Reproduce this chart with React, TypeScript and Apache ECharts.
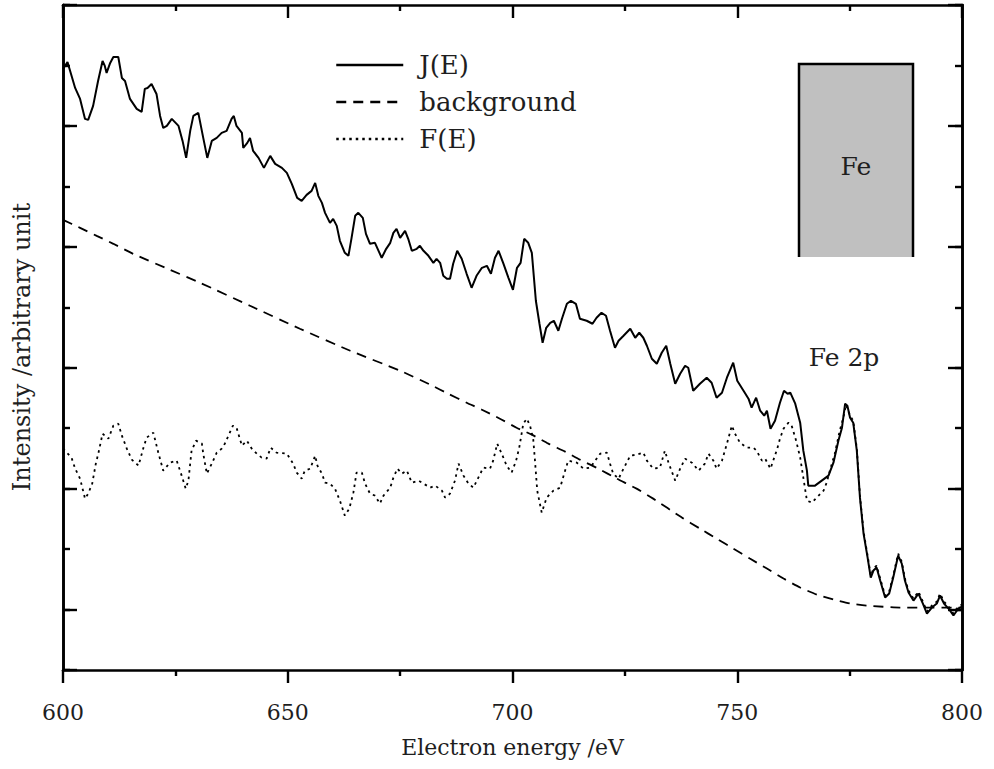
import React, { useEffect, useRef } from "react";
import * as echarts from "echarts";

// Electron energy (eV) / intensity (arbitrary units) readings
const jCurve: [number, number][] = [
  [600, 541], [601.0, 548], [602.7, 522], [603.8, 511], [604.9, 491], [605.6, 490], [606.7, 504],
  [607.8, 529], [608.8, 549], [609.3, 544], [609.7, 537], [610.5, 547], [611.2, 553], [612.3, 553],
  [613.1, 532], [613.8, 529], [614.9, 511], [616.4, 501], [617.5, 498], [618.2, 521], [618.8, 522],
  [619.7, 526], [620.8, 516], [621.6, 494], [622.3, 482], [623.1, 484], [624.2, 491], [625.7, 484],
  [626.6, 469], [627.4, 452], [628.3, 479], [629.0, 494], [630.1, 497], [631.2, 472], [632.1, 452],
  [633.1, 469], [634.2, 472], [635.3, 477], [636.4, 479], [637.5, 491], [638.0, 494], [638.6, 484],
  [639.8, 477], [640.1, 462], [641.0, 467], [641.6, 472], [642.3, 459], [643.5, 452], [644.7, 442],
  [646.1, 454], [647.2, 446], [648.7, 442], [649.8, 437], [650.9, 426], [652.1, 412], [653.1, 409],
  [654.2, 415], [655.3, 419], [656.1, 427], [656.8, 414], [657.6, 407], [658.3, 397], [659.4, 387],
  [660.1, 391], [660.9, 384], [661.6, 369], [662.7, 357], [663.5, 354], [664.2, 372], [665.0, 394],
  [665.7, 397], [666.7, 392], [667.4, 376], [668.3, 366], [669.4, 367], [670.2, 359], [670.9, 352],
  [671.9, 361], [672.8, 367], [673.5, 377], [674.2, 381], [675.0, 372], [676.1, 379], [676.8, 371],
  [677.6, 359], [678.7, 361], [679.4, 364], [680.2, 359], [681.3, 354], [682.4, 347], [683.1, 351],
  [683.9, 347], [684.6, 334], [685.4, 331], [686.1, 331], [686.8, 346], [687.7, 359], [688.7, 351],
  [689.8, 336], [690.9, 322], [692.0, 334], [693.2, 342], [694.3, 344], [695.2, 336], [696.1, 352],
  [696.9, 359], [698.0, 346], [699.1, 332], [700.1, 320], [701.0, 342], [701.8, 347], [702.6, 371],
  [703.5, 367], [704.3, 357], [705.2, 309], [706.0, 286], [706.7, 267], [707.5, 282], [708.4, 287],
  [709.2, 289], [710.2, 279], [711.0, 291], [712.1, 306], [713.0, 309], [714.1, 306], [715.0, 291],
  [716.5, 289], [717.8, 286], [718.7, 292], [719.8, 297], [720.8, 294], [721.7, 279], [722.8, 262],
  [723.6, 269], [724.7, 274], [726.2, 281], [727.3, 272], [728.2, 277], [729.1, 272], [729.9, 264],
  [731.0, 251], [732.1, 246], [733.2, 257], [734.2, 264], [735.1, 246], [736.2, 226], [737.3, 236],
  [738.4, 244], [739.1, 242], [740.2, 219], [741.7, 226], [743.2, 232], [744.3, 227], [745.4, 212],
  [746.6, 217], [747.7, 232], [749.1, 247], [750.0, 229], [751.4, 219], [752.5, 211], [753.2, 202],
  [754.2, 212], [755.1, 199], [756.0, 194], [756.6, 199], [757.4, 181], [758.4, 189], [759.5, 207],
  [760.4, 219], [761.2, 216], [761.8, 217], [762.9, 206], [764.0, 187], [764.7, 159], [765.5, 139],
  [765.8, 124], [767.3, 124], [768.8, 129], [770.3, 134], [771.4, 147], [772.5, 169], [773.3, 182],
  [774.0, 206], [774.5, 204], [775.1, 192], [775.8, 187], [776.6, 159], [777.3, 112], [778.1, 76],
  [779.0, 52], [779.7, 32], [780.3, 39], [781.0, 42], [781.8, 29], [782.9, 12], [783.8, 16],
  [784.7, 32], [785.8, 54], [786.6, 46], [787.3, 29], [788.1, 17], [789.2, 9], [790.3, 16],
  [791.3, 6], [792.2, -4], [793.3, 2], [794.4, 6], [795.1, 14], [796.0, 6], [797.0, 1],
  [798.1, -6], [799.2, 1], [800, 3],
];

const backgroundCurve: [number, number][] = [
  [600, 390], [603.8, 382], [607.5, 374], [611.2, 366], [615.6, 356], [623.8, 340], [630.5, 327],
  [641.6, 304], [652.7, 281], [663.9, 259], [675.0, 239], [681.7, 225], [685.7, 216], [689.8, 207],
  [693.2, 200], [697.2, 191], [700.9, 182], [704.3, 175], [708.0, 166], [711.7, 158], [715.0, 150],
  [719.1, 141], [723.2, 131], [727.6, 121], [731.3, 111], [737.7, 92], [741.7, 81], [745.4, 71],
  [749.1, 61], [752.8, 51], [756.6, 41], [760.3, 31], [764.0, 22], [767.7, 15], [771.4, 10],
  [775.1, 6], [778.8, 4], [786.2, 2], [800, 2],
];

const fCurve: [number, number][] = [
  [600, 161], [601.9, 152], [602.7, 141], [603.8, 131], [604.9, 111], [605.6, 116], [606.5, 126],
  [607.3, 146], [607.9, 157], [608.8, 176], [610.1, 171], [611.2, 184], [612.3, 186], [613.1, 174],
  [614.2, 161], [615.3, 150], [616.8, 144], [617.9, 162], [618.6, 172], [620.1, 177], [621.2, 157],
  [622.3, 139], [623.8, 147], [625.3, 149], [626.4, 134], [627.3, 121], [627.9, 129], [628.6, 159],
  [629.6, 169], [630.9, 166], [631.2, 156], [632.0, 136], [633.1, 146], [634.2, 157], [635.3, 161],
  [636.0, 166], [636.8, 174], [637.8, 184], [638.6, 182], [639.8, 164], [640.9, 169], [642.0, 161],
  [643.1, 156], [644.2, 152], [645.3, 151], [646.2, 162], [647.5, 157], [649.8, 156], [651.2, 146],
  [652.0, 137], [653.1, 131], [653.8, 139], [655.0, 141], [656.1, 154], [656.6, 144], [657.6, 136],
  [658.3, 127], [659.4, 126], [660.5, 121], [661.6, 109], [662.7, 94], [663.7, 101], [664.6, 117],
  [665.3, 137], [666.5, 137], [667.2, 126], [668.3, 116], [669.4, 114], [670.5, 106], [671.3, 114],
  [672.8, 122], [673.5, 132], [674.4, 141], [675.4, 136], [676.5, 139], [677.6, 127], [679.1, 129],
  [680.2, 126], [681.7, 122], [682.8, 124], [684.3, 119], [685.0, 112], [686.1, 116], [687.2, 129],
  [688.0, 146], [689.1, 134], [690.2, 126], [691.3, 122], [692.4, 132], [693.5, 142], [695.0, 141],
  [695.7, 149], [696.6, 166], [697.6, 156], [698.7, 144], [699.8, 137], [700.8, 149], [701.5, 162],
  [702.4, 186], [703.2, 191], [703.9, 184], [704.6, 171], [705.0, 149], [705.5, 119], [706.5, 97],
  [707.6, 112], [709.1, 119], [710.6, 122], [711.7, 139], [712.4, 149], [714.3, 147], [715.8, 141],
  [717.3, 142], [718.4, 149], [719.5, 156], [721.0, 157], [721.7, 146], [722.4, 136], [723.6, 131],
  [724.7, 141], [726.2, 154], [727.6, 155], [729.1, 157], [729.9, 149], [731.3, 141], [732.8, 142],
  [733.9, 159], [734.7, 147], [736.2, 129], [737.3, 141], [738.4, 151], [739.9, 147], [741.4, 139],
  [742.8, 146], [743.6, 156], [744.7, 149], [745.4, 141], [746.6, 149], [747.7, 166], [748.8, 184],
  [749.5, 176], [750.6, 167], [752.1, 162], [753.6, 162], [754.3, 159], [755.5, 149], [756.2, 151],
  [757.4, 141], [758.0, 149], [758.9, 161], [759.5, 171], [760.3, 181], [761.4, 187], [762.1, 184],
  [763.1, 169], [764.0, 152], [764.7, 132], [765.5, 109], [766.6, 107], [768.1, 114], [769.2, 119],
  [769.9, 127], [770.6, 139], [771.7, 156], [772.8, 179], [773.6, 192], [774.2, 205], [775.1, 194],
  [775.8, 189], [776.6, 161], [777.3, 114], [778.1, 78], [779.0, 54], [779.7, 34], [780.3, 41],
  [781.0, 44], [781.8, 31], [782.9, 14], [783.8, 18], [784.7, 34], [785.8, 56], [786.6, 48],
  [787.3, 31], [788.1, 19], [789.2, 11], [790.3, 18], [791.3, 8], [792.2, -2], [793.3, 4],
  [794.4, 8], [795.1, 16], [796.0, 8], [797.0, 3], [798.1, -4], [799.2, 3], [800, 5],
];

const seriesNames = ["J(E)", "background", "F(E)"];
const xTickLabels = [600, 650, 700, 750, 800];
const xAxisTitle = "Electron energy /eV";
const yAxisTitle = "Intensity /arbitrary unit";
const sampleLabel = "Fe";
const edgeLabel = "Fe 2p";

const FONT = "'DejaVu Serif', 'Liberation Serif', serif";
const INK = "#1e1e1e";

// the y axis is drawn inverted, so intensities are negated when handed to it
const toAxis = (pts: [number, number][]) => pts.map(([e, v]) => [e, -v]);

export default function App() {
  const ref = useRef<HTMLDivElement>(null);

  useEffect(() => {
    if (!ref.current) return;
    const chart = echarts.init(ref.current, undefined, { renderer: "svg" });

    const axisLine = { show: true, onZero: false, lineStyle: { color: "#000", width: 2.6 } };
    const yBase = {
      type: "value" as const,
      inverse: true,
      min: -605,
      max: 60.5,
      axisLine,
      axisLabel: { show: false },
      splitLine: { show: false },
    };
    const xBase = {
      type: "value" as const,
      min: xTickLabels[0],
      max: xTickLabels[xTickLabels.length - 1],
      interval: 50,
      axisLine,
      splitLine: { show: false },
      minorTick: { show: true, splitNumber: 2, length: 6, lineStyle: { color: "#000", width: 2.4 } },
    };

    chart.setOption({
      animation: false,
      backgroundColor: "#fff",
      grid: { left: 63, right: 32, top: 5, bottom: 99 },
      xAxis: [
        {
          ...xBase,
          position: "bottom",
          axisTick: { show: true, inside: false, length: 13, lineStyle: { color: "#000", width: 2.4 } },
          axisLabel: {
            show: true,
            margin: 31,
            fontFamily: FONT,
            fontSize: 22,
            color: INK,
            formatter: (v: number) => (xTickLabels.includes(v) ? String(v) : ""),
          },
          name: xAxisTitle,
          nameLocation: "middle",
          nameGap: 66,
          nameTextStyle: { fontFamily: FONT, fontSize: 22, color: INK },
        },
        {
          ...xBase,
          position: "top",
          axisTick: { show: true, inside: true, length: 13, lineStyle: { color: "#000", width: 2.4 } },
          axisLabel: { show: false },
        },
      ],
      yAxis: [
        {
          ...yBase,
          position: "left",
          interval: 60.5,
          axisTick: { show: true, inside: true, length: 7, lineStyle: { color: "#000", width: 2.4 } },
        },
        {
          ...yBase,
          position: "left",
          interval: 121,
          axisTick: { show: true, inside: true, length: 14, lineStyle: { color: "#000", width: 2.4 } },
        },
        {
          ...yBase,
          position: "right",
          interval: 60.5,
          axisTick: { show: true, inside: true, length: 7, lineStyle: { color: "#000", width: 2.4 } },
        },
        {
          ...yBase,
          position: "right",
          interval: 121,
          axisTick: { show: true, inside: true, length: 14, lineStyle: { color: "#000", width: 2.4 } },
        },
      ],
      legend: {
        orient: "vertical",
        left: 335,
        top: 52,
        padding: 0,
        itemWidth: 67,
        itemHeight: 14,
        itemGap: 11,
        data: seriesNames,
        itemStyle: { opacity: 0 },
        lineStyle: { width: 2.5 },
        textStyle: { fontFamily: FONT, fontSize: 26, color: INK, padding: [0, 0, 0, 11] },
      },
      series: [
        {
          name: seriesNames[0],
          type: "line",
          data: toAxis(jCurve),
          symbol: "none",
          z: 4,
          itemStyle: { color: "#000" },
          lineStyle: { color: "#000", width: 2, type: "solid" },
        },
        {
          name: seriesNames[1],
          type: "line",
          data: toAxis(backgroundCurve),
          symbol: "none",
          smooth: 0.2,
          z: 3,
          itemStyle: { color: "#000" },
          lineStyle: { color: "#000", width: 1.8, type: [10, 7] },
        },
        {
          name: seriesNames[2],
          type: "line",
          data: toAxis(fCurve),
          symbol: "none",
          z: 2,
          itemStyle: { color: "#000" },
          lineStyle: { color: "#000", width: 1.8, type: [2.5, 4] },
        },
      ],
      graphic: [
        {
          type: "rect",
          shape: { x: 799, y: 64, width: 114, height: 193 },
          style: { fill: "#c0c0c0" },
          z: 1,
        },
        {
          type: "polyline",
          shape: { points: [[799, 257], [799, 64], [913, 64], [913, 257]] },
          style: { stroke: "#000", lineWidth: 2.5, fill: "none" },
          z: 2,
        },
        {
          type: "text",
          x: 856,
          y: 166,
          style: {
            text: sampleLabel,
            font: `25px ${FONT}`,
            fill: INK,
            textAlign: "center",
            textVerticalAlign: "middle",
          },
          z: 3,
        },
        {
          type: "text",
          x: 844,
          y: 357,
          style: {
            text: edgeLabel,
            font: `25px ${FONT}`,
            fill: INK,
            textAlign: "center",
            textVerticalAlign: "middle",
          },
          z: 3,
        },
        {
          type: "text",
          x: 22,
          y: 347,
          rotation: Math.PI / 2,
          style: {
            text: yAxisTitle,
            font: `24px ${FONT}`,
            fill: INK,
            textAlign: "center",
            textVerticalAlign: "middle",
          },
          z: 3,
        },
      ],
    });

    return () => chart.dispose();
  }, []);

  return (
    <div
      ref={ref}
      style={{ position: "absolute", left: 0, top: 0, width: 994, height: 769, background: "#fff" }}
    />
  );
}
